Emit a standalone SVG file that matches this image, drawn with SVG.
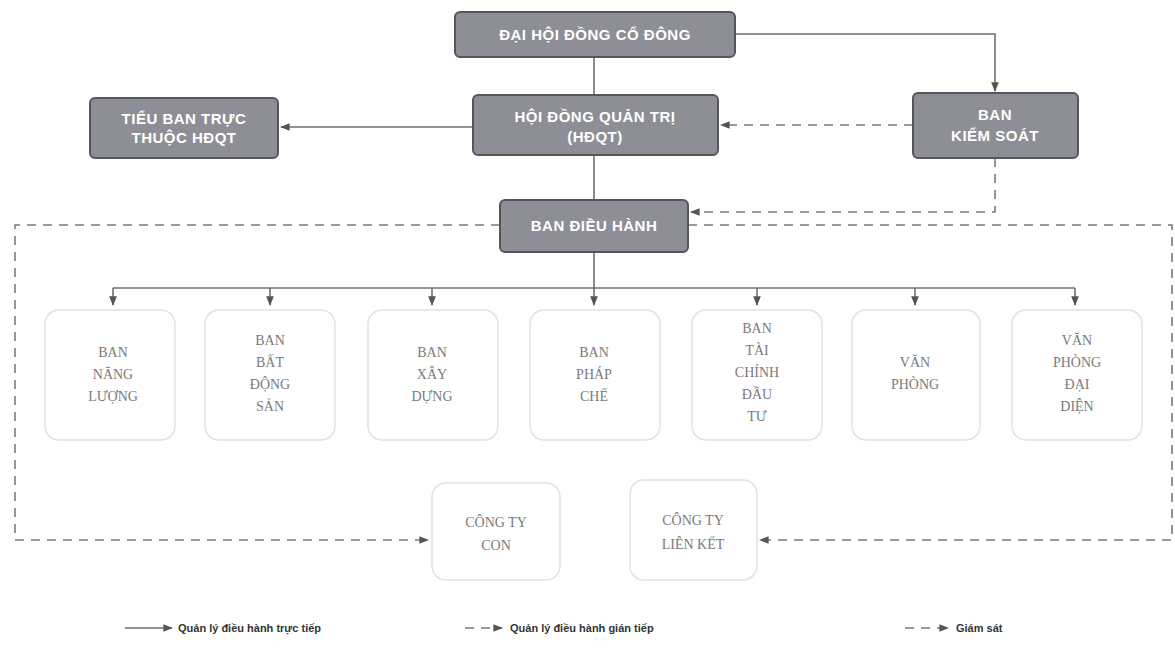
<svg xmlns="http://www.w3.org/2000/svg" width="1175" height="655" viewBox="0 0 1175 655">
<style>
.top rect{fill:#8e8e96;stroke:#55555c;stroke-width:2}
.top text{fill:#fff;font-family:"Liberation Sans",Arial,sans-serif;font-weight:bold;font-size:15px;text-anchor:middle;letter-spacing:0.5px}
.dep rect{fill:#fff;stroke:#e2e2e2;stroke-width:1.5}
.dep text{fill:#7a7a7a;font-family:"Liberation Serif","Times New Roman",serif;font-size:14px;text-anchor:middle}
.solid{stroke:#6f6f6f;stroke-width:1.6;fill:none}
.dash{stroke:#7a7a7a;stroke-width:1.6;fill:none;stroke-dasharray:9 7}
.leg{fill:#333;font-family:"Liberation Sans",Arial,sans-serif;font-size:11px;font-weight:bold}
</style>
<defs>
<marker id="ah" viewBox="0 0 10 10" refX="9" refY="5" markerWidth="6" markerHeight="6" orient="auto-start-reverse">
<path d="M0,1 L10,5 L0,9 z" fill="#555"/>
</marker>
</defs>
<rect width="1175" height="655" fill="#fff"/>

<g id="connectors">
<line class="solid" x1="594" y1="57" x2="594" y2="95"/>
<path class="solid" d="M735,34 H995 V91" marker-end="url(#ah)"/>
<line class="solid" x1="473" y1="127" x2="281" y2="127" marker-end="url(#ah)"/>
<line class="dash" x1="913" y1="125" x2="721" y2="125" marker-end="url(#ah)"/>
<line class="solid" x1="594" y1="155" x2="594" y2="200"/>
<path class="dash" d="M995,158 V212 H691" marker-end="url(#ah)"/>
<path class="dash" d="M500,225 H15 V540 H428" marker-end="url(#ah)"/>
<path class="dash" d="M688,225 H1172 V540 H760" marker-end="url(#ah)"/>
<line class="solid" x1="594" y1="252" x2="594" y2="305" marker-end="url(#ah)"/>
<line class="solid" x1="113" y1="288" x2="1075" y2="288"/>
<line class="solid" x1="113" y1="288" x2="113" y2="305" marker-end="url(#ah)"/>
<line class="solid" x1="270" y1="288" x2="270" y2="305" marker-end="url(#ah)"/>
<line class="solid" x1="432" y1="288" x2="432" y2="305" marker-end="url(#ah)"/>
<line class="solid" x1="757" y1="288" x2="757" y2="305" marker-end="url(#ah)"/>
<line class="solid" x1="915" y1="288" x2="915" y2="305" marker-end="url(#ah)"/>
<line class="solid" x1="1075" y1="288" x2="1075" y2="305" marker-end="url(#ah)"/>
</g>

<g id="dhdcd" class="top"><rect x="455" y="12" width="280" height="45" rx="5"/><text x="595" y="40">ĐẠI HỘI ĐỒNG CỔ ĐÔNG</text></g>
<g id="hdqt" class="top"><rect x="473" y="95" width="245" height="60" rx="5"/><text x="595" y="122">HỘI ĐỒNG QUẢN TRỊ</text><text x="595" y="142">(HĐQT)</text></g>
<g id="tieuban" class="top"><rect x="90" y="98" width="188" height="60" rx="5"/><text x="184" y="124">TIỂU BAN TRỰC</text><text x="184" y="143">THUỘC HĐQT</text></g>
<g id="bks" class="top"><rect x="913" y="93" width="165" height="65" rx="5"/><text x="995" y="120">BAN</text><text x="995" y="141">KIỂM SOÁT</text></g>
<g id="bdh" class="top"><rect x="500" y="200" width="188" height="52" rx="5"/><text x="594" y="231">BAN ĐIỀU HÀNH</text></g>

<g id="nangluong" class="dep"><rect x="45" y="310" width="130" height="130" rx="14"/><text x="113" y="357">BAN</text><text x="113" y="379">NĂNG</text><text x="113" y="401">LƯỢNG</text></g>
<g id="batdongsan" class="dep"><rect x="205" y="310" width="130" height="130" rx="14"/><text x="270" y="345">BAN</text><text x="270" y="367">BẤT</text><text x="270" y="389">ĐỘNG</text><text x="270" y="411">SẢN</text></g>
<g id="xaydung" class="dep"><rect x="368" y="310" width="130" height="130" rx="14"/><text x="432" y="357">BAN</text><text x="432" y="379">XÂY</text><text x="432" y="401">DỰNG</text></g>
<g id="phapche" class="dep"><rect x="530" y="310" width="130" height="130" rx="14"/><text x="594" y="357">BAN</text><text x="594" y="379">PHÁP</text><text x="594" y="401">CHẾ</text></g>
<g id="taichinh" class="dep"><rect x="692" y="310" width="130" height="130" rx="14"/><text x="757" y="333">BAN</text><text x="757" y="355">TÀI</text><text x="757" y="377">CHÍNH</text><text x="757" y="399">ĐẦU</text><text x="757" y="421">TƯ</text></g>
<g id="vanphong" class="dep"><rect x="852" y="310" width="128" height="130" rx="14"/><text x="915" y="367">VĂN</text><text x="915" y="389">PHÒNG</text></g>
<g id="vpdaidien" class="dep"><rect x="1012" y="310" width="130" height="130" rx="14"/><text x="1077" y="345">VĂN</text><text x="1077" y="367">PHÒNG</text><text x="1077" y="389">ĐẠI</text><text x="1077" y="411">DIỆN</text></g>
<g id="congtycon" class="dep"><rect x="432" y="483" width="128" height="97" rx="14"/><text x="496" y="527">CÔNG TY</text><text x="496" y="550">CON</text></g>
<g id="congtylienket" class="dep"><rect x="630" y="480" width="127" height="100" rx="14"/><text x="693" y="525">CÔNG TY</text><text x="693" y="549">LIÊN KẾT</text></g>

<g id="legend">
<line class="solid" x1="125" y1="628" x2="172" y2="628" marker-end="url(#ah)"/>
<text class="leg" x="178" y="632">Quản lý điều hành trực tiếp</text>
<line class="dash" x1="465" y1="628" x2="502" y2="628" marker-end="url(#ah)"/>
<text class="leg" x="510" y="632">Quản lý điều hành gián tiếp</text>
<line class="dash" x1="905" y1="628" x2="948" y2="628" marker-end="url(#ah)"/>
<text class="leg" x="956" y="632">Giám sát</text>
</g>
</svg>
